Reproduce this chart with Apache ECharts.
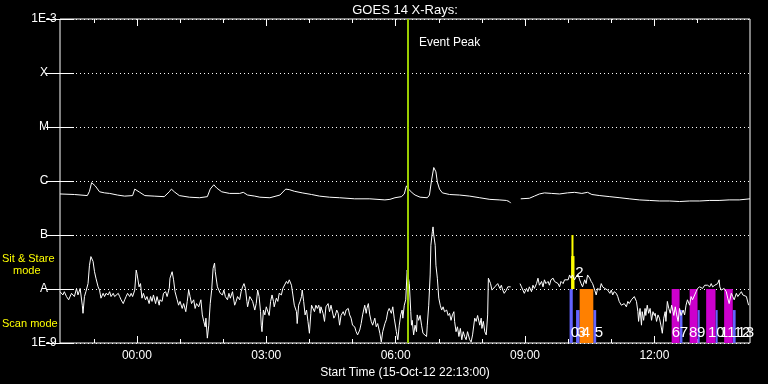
<!DOCTYPE html>
<html><head><meta charset="utf-8">
<script src="https://cdn.jsdelivr.net/npm/echarts@6/dist/echarts.min.js"></script>
<style>html,body{margin:0;padding:0;background:#000}#c{width:768px;height:384px}</style>
</head><body><div id="c"></div>
<script>
// time in minutes since start (15-Oct-12 22:13:00); values are log10 of flux (W/m^2)
const upperT = [0,20,38,41,44,49,55,62,69,80,90,101,104,106,111,118,131,145,152,155,159,166,180,194,205,209,214,218,225,236,250,255,261,271,278,292,306,314,319,326,337,350,361,375,389,410,431,452,459,466,475,479,482,485,490,494,501,511,514,517,520,523,525,528,532,542,556,570,584,598,611,621,625,627,632,641,653,660,667,674,684,695,706,716,726,734,740,751,765,779,792,806,820,834,848,862,876,890,904,917,931,945,960];
const upperV = [-6.24,-6.25,-6.27,-6.19,-6.03,-6.09,-6.20,-6.22,-6.23,-6.26,-6.28,-6.27,-6.15,-6.14,-6.21,-6.27,-6.28,-6.29,-6.20,-6.15,-6.20,-6.27,-6.30,-6.31,-6.29,-6.15,-6.07,-6.13,-6.20,-6.23,-6.23,-6.21,-6.26,-6.28,-6.30,-6.31,-6.26,-6.15,-6.16,-6.19,-6.22,-6.25,-6.28,-6.30,-6.31,-6.33,-6.33,-6.35,-6.34,-6.31,-6.29,-6.24,-6.09,-6.15,-6.22,-6.26,-6.30,-6.31,-6.26,-5.98,-5.75,-5.83,-6.02,-6.15,-6.22,-6.25,-6.26,-6.28,-6.31,-6.34,-6.35,-6.36,-6.38,-6.41,'-',-6.33,-6.32,-6.28,-6.24,-6.22,-6.23,-6.24,-6.22,-6.21,-6.23,-6.21,-6.25,-6.27,-6.29,-6.31,-6.33,-6.35,-6.36,-6.37,-6.37,-6.38,-6.37,-6.37,-6.36,-6.36,-6.35,-6.35,-6.33];

const lowerT = [0,4,6,9,12,16,20,23,25,28,31,32,34,36,39,41,43,46,48,50,53,55,57,60,62,64,67,69,71,74,76,78,81,83,85,88,90,92,94,97,99,101,104,106,107,110,112,114,116,119,121,124,126,128,130,133,135,138,139,142,144,147,149,152,153,156,158,160,163,165,167,170,172,175,177,179,181,183,186,188,190,193,196,198,200,202,203,205,207,209,211,213,215,216,219,221,223,226,228,230,233,235,237,240,
243,245,247,250,252,254,256,258,260,261,264,266,268,271,273,275,277,279,280,281,283,285,287,289,291,293,295,297,298,301,303,305,308,310,312,315,317,319,322,324,326,329,330,332,334,336,337,339,341,343,345,347,349,350,352,354,356,358,360,362,363,366,368,370,373,375,377,379,381,383,385,387,389,391,394,396,398,401,403,405,407,410,412,414,417,419,421,424,426,427,429,431,433,435,438,440,442,445,447,449,452,454,456,458,461,463,465,468,470,472,474,476,477,479,481,483,
486,488,489,490,492,494,496,497,499,501,503,505,507,510,511,513,515,516,518,519,520,522,523,525,527,529,531,533,535,536,538,540,542,544,546,548,549,551,553,555,557,559,561,563,565,567,570,572,574,577,579,581,584,586,587,589,591,593,595,596,597,599,601,603,605,607,609,612,614,616,618,621,623,625,627,632,640,642,644,646,649,651,653,656,658,660,663,665,667,670,672,674,676,679,681,683,686,688,690,693,695,697,700,702,704,707,709,711,713,716,718,721,723,725,727,
730,732,734,737,739,741,744,746,748,751,753,755,758,760,762,765,767,769,771,774,776,778,781,783,785,788,790,792,795,797,799,801,802,804,805,807,809,810,812,814,815,817,819,821,823,825,827,828,830,832,834,836,838,840,842,843,845,847,849,851,853,854,856,858,860,862,864,867,869,871,873,876,878,880,883,885,887,890,892,894,897,899,901,904,906,908,911,913,915,917,918,920,922,924,927,929,931,934,936,938,941,943,945,948,950,952,955,957,958];
const lowerV = [-8.05,-8.11,-8.05,-8.14,-8.20,-8.08,-8.14,-7.99,-8.11,-7.99,-8.30,-8.45,-8.14,-8.05,-7.90,-7.56,-7.40,-7.49,-7.68,-7.80,-7.96,-8.02,-8.17,-8.08,-8.14,-8.08,-8.11,-8.05,-8.14,-8.08,-8.14,-8.11,-8.08,-8.14,-8.20,-8.27,-8.20,-8.14,-8.08,-8.14,-8.08,-8.14,-8.02,-7.65,-7.71,-7.96,-7.90,-8.17,-8.08,-8.20,-8.14,-8.27,-8.14,-8.23,-8.11,-8.27,-8.14,-8.30,-8.20,-8.23,-8.08,-8.05,-8.14,-7.99,-7.80,-7.68,-7.83,-8.05,-8.20,-8.30,-8.23,-8.36,-8.27,-8.42,-8.23,-8.02,-8.14,-8.27,-8.20,-8.36,-8.27,-8.33,-8.20,-8.48,-8.60,-8.70,-8.54,-8.91,-8.67,-8.27,-8.02,-7.62,-7.52,-7.68,-7.96,-7.99,-8.08,-8.11,-8.02,-8.14,-8.20,-8.08,-8.17,-8.05,
-8.30,-8.23,-8.14,-8.20,-8.05,-7.96,-7.90,-7.99,-8.23,-8.33,-8.14,-8.11,-8.23,-8.39,-8.27,-8.02,-8.14,-8.42,-8.67,-8.79,-8.39,-8.48,-8.33,-8.30,-8.49,-8.23,-8.11,-8.23,-8.33,-8.17,-8.23,-8.08,-8.11,-7.99,-7.96,-7.86,-7.90,-7.83,-7.93,-8.11,-8.30,-8.42,-8.64,-8.30,-8.23,-8.14,-8.02,-8.23,-8.48,-8.39,-8.60,-8.82,-8.45,-8.30,-8.33,-8.42,-8.30,-8.36,-8.30,-8.45,-8.33,-8.45,-8.60,-8.33,-8.27,-8.42,-8.30,-8.27,-8.54,-8.49,-8.39,-8.45,-8.67,-8.49,-8.42,-8.49,-8.39,-8.36,-8.48,-8.54,-8.67,-8.70,-8.79,-8.85,-8.76,-8.64,-8.48,-8.30,-8.45,-8.36,-8.27,-8.48,-8.60,-8.67,-8.54,-8.70,-8.64,-8.82,-8.98,-8.79,-8.64,-8.57,-8.42,-8.36,-8.45,-8.33,-8.54,-8.79,-8.94,-8.67,-8.48,-8.39,-8.54,-8.30,-8.20,-7.65,
-7.90,-8.42,-8.67,-8.58,-8.85,-8.67,-8.79,-8.48,-8.58,-8.49,-8.67,-8.82,-8.79,-8.88,-8.67,-8.30,-7.74,-7.19,-6.94,-6.85,-7.00,-7.19,-7.56,-7.80,-8.17,-8.30,-8.39,-8.33,-8.42,-8.45,-8.39,-8.49,-8.45,-8.58,-8.48,-8.42,-8.60,-8.79,-8.70,-8.88,-8.73,-8.94,-8.79,-8.88,-8.94,-8.79,-8.94,-8.98,-8.85,-8.54,-8.60,-8.49,-8.67,-8.54,-8.73,-8.60,-8.79,-8.85,-8.48,-7.80,-7.80,-7.90,-8.02,-8.05,-7.96,-7.99,-7.90,-7.99,-7.93,-8.02,-8.08,-8.02,-7.96,-7.96,-7.96,'-',-7.90,-7.96,-8.02,-8.08,-7.99,-8.05,-7.96,-8.05,-7.93,-7.99,-7.90,-7.80,-7.93,-7.86,-7.96,-7.83,-7.90,-7.86,-7.93,-7.83,-7.80,-7.86,-7.83,-7.90,-7.96,-7.86,-7.90,-7.83,-7.80,-7.83,-7.74,-7.80,-7.74,-7.83,-7.77,-7.74,-7.83,-7.90,-7.96,
-7.83,-7.90,-7.74,-7.80,-7.86,-7.90,-8.02,-8.11,-7.99,-8.02,-7.90,-7.96,-7.99,-7.96,-8.02,-8.08,-8.02,-8.11,-8.05,-8.08,-8.14,-8.23,-8.30,-8.33,-8.27,-8.33,-8.23,-8.27,-8.20,-8.17,-8.14,-8.11,-8.23,-8.42,-8.60,-8.36,-8.67,-8.42,-8.58,-8.36,-8.49,-8.30,-8.45,-8.36,-8.58,-8.42,-8.49,-8.45,-8.60,-8.48,-8.54,-8.67,-8.82,-8.54,-8.42,-8.60,-8.23,-8.36,-8.45,-8.30,-8.42,-8.49,-8.33,-8.48,-8.60,-8.36,-8.49,-8.39,-8.48,-8.30,-8.20,-8.30,-8.14,-8.20,-8.11,-8.05,-7.99,-7.96,-7.93,-7.99,-7.93,-7.96,-7.93,-7.96,-7.90,-7.96,-7.93,-7.96,-7.90,-7.83,-7.96,-8.02,-8.05,-7.99,-8.05,-8.17,-8.27,-8.08,-8.14,-8.20,-8.08,-8.14,-8.11,-8.05,-8.11,-8.08,-8.14,-8.11,-8.30];

// observation bars: [start, end, top] (scan mode bars rise from 1E-9)
const scanBlue = [[709,713.4,-8.0],[718,723,-8.39],[742,746,-8.39],[862,866,-8.39],[887,890,-8.39],[912,915,-8.39],[936,940,-8.39]];
const scanOrange = [[723,742,-8.0]];
const scanMagenta = [[851,862,-8.0],[876,887,-8.0],[899,912,-8.0],[924,936,-8.0]];
// sit & stare bars: [start, end, top] (rise from A level)
const stareYellow = [[711.6,714.4,-7.0],[711.2,715.8,-7.39]];
const barLabels = ['0','2','3','4','5','6','7','8','9','10','11','12','13'];
const barLabelT = [716.5,722.8,725.5,731.8,749.9,857,868,881,892,913,929,949,954];
const barLabelV = [-8.815,-7.694,-8.815,-8.815,-8.815,-8.815,-8.815,-8.815,-8.815,-8.815,-8.815,-8.815,-8.815];

const eventTime = 484;
const eventLabel = 'Event Peak';
const hourTicks = [47,107,167,227,287,347,407,467,527,587,647,707,767,827,887];
const xLabelTimes = [107,287,467,647,827];
const xLabels = ['00:00','03:00','06:00','09:00','12:00'];
const yLevels = [-9,-8,-7,-6,-5,-4,-3];
const yNames = ['1E-9','A','B','C','M','X','1E-3'];
const titleText = 'GOES 14 X-Rays:';
const xName = 'Start Time (15-Oct-12 22:13:00)';

const FF = '"Liberation Sans", Arial, sans-serif';
const zip = (a, b) => a.map((t, i) => [t, b[i]]);

function barSeries(list, base, color, z) {
  return {
    type: 'custom', z: z, silent: true, animation: false,
    encode: {x: [0, 1], y: [2, 3]},
    data: list.map(d => [d[0], d[1], base, d[2]]),
    renderItem: function (params, api) {
      const p0 = api.coord([api.value(0), api.value(3)]);
      const p1 = api.coord([api.value(1), api.value(2)]);
      return {type: 'rect', shape: {x: p0[0], y: p0[1], width: p1[0] - p0[0], height: p1[1] - p0[1]}, style: {fill: color}};
    }
  };
}

const chart = echarts.init(document.getElementById('c'), null, {renderer: 'canvas'});
const tickAxis = (pos, len, vals) => ({
  type: 'value', min: 0, max: 960, position: pos,
  axisLine: {show: false}, splitLine: {show: false}, axisLabel: {show: false},
  axisTick: {show: true, inside: true, length: len, customValues: vals, lineStyle: {color: '#fff', width: 1}}
});
const xMain = tickAxis('bottom', 4, hourTicks);
xMain.axisLabel = {show: true, customValues: xLabelTimes, color: '#fff', fontSize: 12, fontFamily: FF, margin: 7,
  formatter: v => xLabels[xLabelTimes.indexOf(v)] || ''};
xMain.name = xName; xMain.nameLocation = 'middle'; xMain.nameGap = 20;
xMain.nameTextStyle = {color: '#fff', fontSize: 12, fontFamily: FF};

chart.setOption({
  backgroundColor: '#000',
  animation: false,
  grid: {left: 60, right: 18, top: 19, bottom: 41, show: true, borderColor: '#fff', borderWidth: 1, backgroundColor: 'transparent'},
  xAxis: [xMain, tickAxis('bottom', 7, xLabelTimes), tickAxis('top', 4, hourTicks), tickAxis('top', 7, xLabelTimes)],
  yAxis: [
    {type: 'value', min: -9, max: -3, interval: 1, position: 'left', axisLine: {show: false},
     axisTick: {show: true, inside: true, length: 14, lineStyle: {color: '#fff'}},
     axisLabel: {color: '#fff', fontSize: 12, fontFamily: FF, align: 'center', margin: 16,
       formatter: v => yNames[yLevels.indexOf(Math.round(v))] || ''},
     splitLine: {show: true, lineStyle: {color: '#fff', width: 1, type: [1, 3]}}},
    {type: 'value', min: -9, max: -3, interval: 1, position: 'right', axisLine: {show: false},
     axisTick: {show: true, inside: true, length: 14, lineStyle: {color: '#fff'}},
     axisLabel: {show: false}, splitLine: {show: false}}
  ],
  graphic: [
    {type: 'text', x: 405, y: 10, style: {text: titleText, fill: '#fff', font: '13px ' + FF, align: 'center', verticalAlign: 'middle'}},
    {type: 'text', x: 2, y: 259, z: 100, style: {text: 'Sit & Stare', fill: '#ffff00', font: '11px ' + FF, align: 'left', verticalAlign: 'middle'}},
    {type: 'text', x: 13, y: 271, z: 100, style: {text: 'mode', fill: '#ffff00', font: '11px ' + FF, align: 'left', verticalAlign: 'middle'}},
    {type: 'text', x: 2, y: 324, z: 100, style: {text: 'Scan mode', fill: '#ffff00', font: '11px ' + FF, align: 'left', verticalAlign: 'middle'}}
  ],
  series: [
    barSeries(scanBlue, -9, '#6464ff', 1),
    barSeries(scanOrange, -9, '#ff8000', 1),
    barSeries(scanMagenta, -9, '#cc00cc', 1),
    barSeries(stareYellow, -8, '#ffff00', 1),
    {type: 'line', z: 3, data: zip(upperT, upperV), showSymbol: false, symbol: 'none', silent: true,
     lineStyle: {color: '#fff', width: 1}, connectNulls: false},
    {type: 'line', z: 3, data: zip(lowerT, lowerV), showSymbol: false, symbol: 'none', silent: true,
     lineStyle: {color: '#fff', width: 1}, connectNulls: false,
     markLine: {silent: true, symbol: 'none', animation: false, label: {show: false},
       lineStyle: {color: '#9acd00', width: 2, type: 'solid'}, data: [{xAxis: eventTime}]}},
    {type: 'custom', z: 5, silent: true, animation: false,
     encode: {x: 0, y: 1},
     data: barLabelT.map((t, i) => [t, barLabelV[i], barLabels[i]]),
     renderItem: function (params, api) {
       const p = api.coord([api.value(0), api.value(1)]);
       return {type: 'text', x: p[0], y: p[1], style: {text: barLabels[params.dataIndex], fill: '#fff', font: '15px ' + FF, align: 'center', verticalAlign: 'middle'}};
     }},
    {type: 'custom', z: 5, silent: true, animation: false,
     encode: {x: 0, y: 1},
     data: [[eventTime, -3.444]],
     renderItem: function (params, api) {
       const p = api.coord([api.value(0), api.value(1)]);
       return {type: 'text', x: p[0] + 11, y: p[1], style: {text: eventLabel, fill: '#fff', font: '12px ' + FF, align: 'left', verticalAlign: 'middle'}};
     }}
  ]
});
</script></body></html>
